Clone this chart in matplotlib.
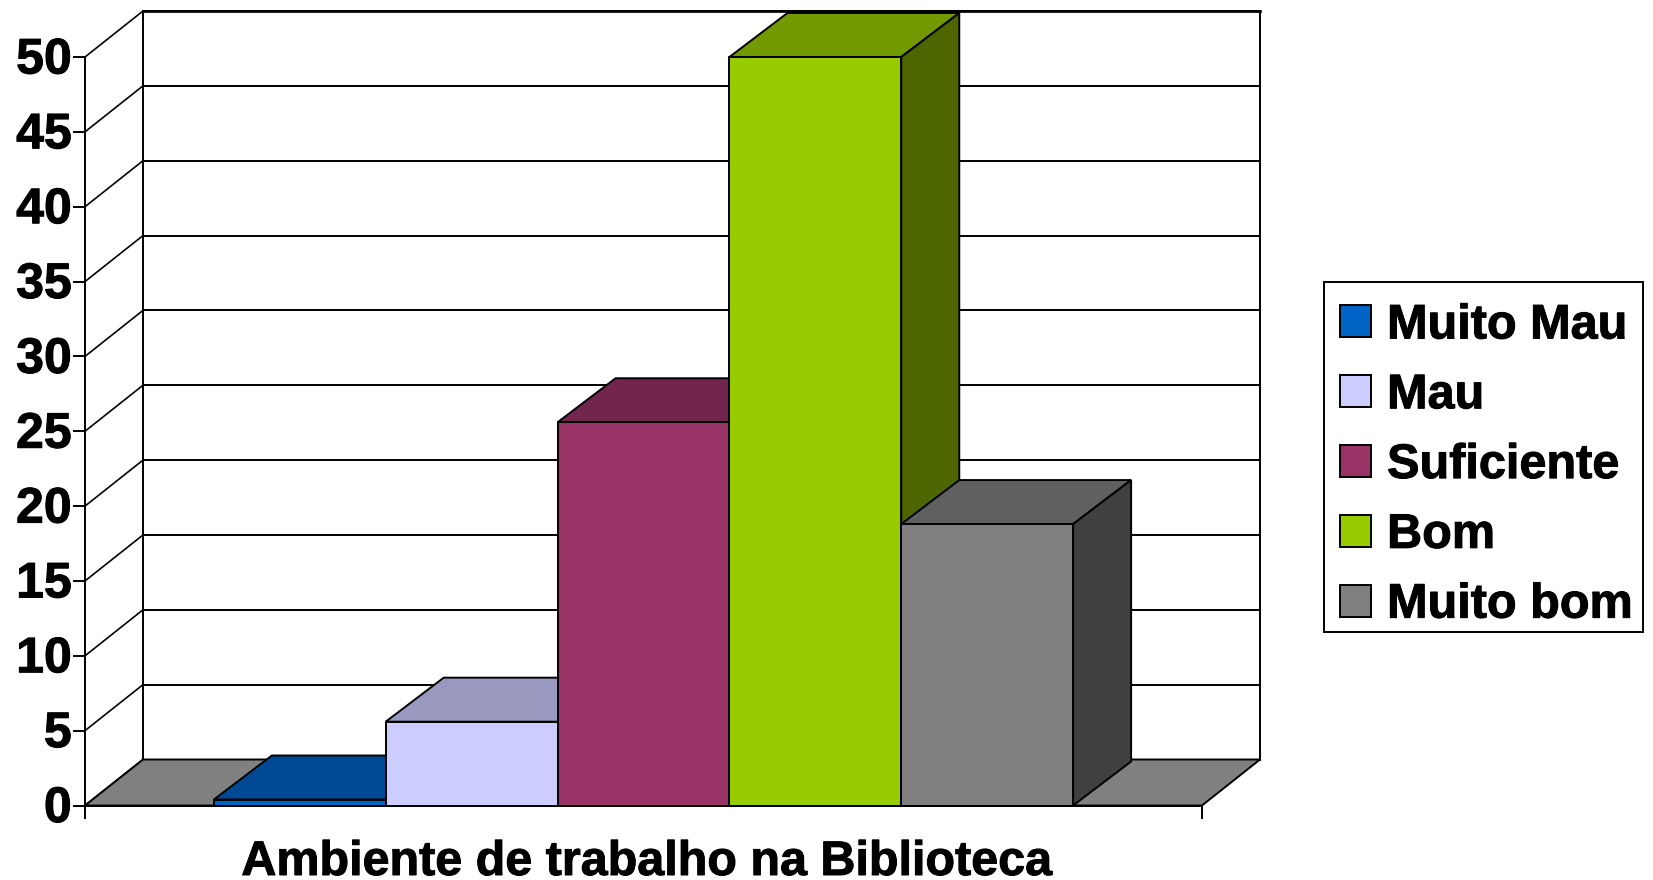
import matplotlib
matplotlib.use("Agg")
import matplotlib.pyplot as plt
import matplotlib.patheffects as pe
from matplotlib.patches import Patch, Polygon, Rectangle
from matplotlib.colors import to_rgb
from matplotlib.transforms import ScaledTranslation

categories = ["Muito Mau", "Mau", "Suficiente", "Bom", "Muito bom"]
values = [0.4, 5.6, 25.6, 50, 18.8]
colors = ["#0063C6", "#CCCCFF", "#993366", "#99CC00", "#808080"]
yticks = [0, 5, 10, 15, 20, 25, 30, 35, 40, 45, 50]
axis_title = "Ambiente de trabalho na Biblioteca"

W, H = 1653, 880
DPI = 100
LW = 1.4
FS_TICK = 36
FS_LEG = 35
FS_TITLE = 34.9
plt.rcParams["font.family"] = ["Liberation Sans", "DejaVu Sans"]
plt.rcParams["font.weight"] = "bold"
HEAVY = [pe.withStroke(linewidth=0.7, foreground="black")]

fig = plt.figure(figsize=(W / DPI, H / DPI), dpi=DPI, facecolor="white")
Y0, Y50 = 805.5, 57
ax = fig.add_axes([85 / W, (H - Y0) / H, 1117 / W, (Y0 - Y50) / H])
ax.set_xlim(0, 6.5)
ax.set_ylim(0, 50)
ax.patch.set_visible(False)

# depth of the 3D box, in data units
UNIT_Y = (Y0 - Y50) / 50
DX = 58 / (1117 / 6.5)
DY = 46 / UNIT_Y
BAR_DY = 44 / UNIT_Y
GAP = 0.75
XMAX = 6.5


def poly(pts, fc, z):
    ax.add_patch(Polygon(pts, closed=True, facecolor=fc, edgecolor="black",
                         linewidth=LW, joinstyle="miter", clip_on=False, zorder=z))


def shade(c, f):
    return tuple(v * f for v in to_rgb(c))


# gridlines: back wall + diagonals on the left side wall
for t in yticks:
    ax.plot([DX, XMAX + DX], [t + DY, t + DY], color="black", lw=LW, clip_on=False, zorder=1)
    ax.plot([0, DX], [t, t + DY], color="black", lw=LW * 0.85, clip_on=False, zorder=1)
ax.plot([DX, DX], [DY, 50 + DY], color="black", lw=LW, clip_on=False, zorder=1)
ax.plot([XMAX + DX, XMAX + DX], [DY, 50 + DY], color="black", lw=LW, clip_on=False, zorder=1)
ax.plot([DX, XMAX + DX], [50 + DY, 50 + DY], color="black", lw=LW * 1.4, clip_on=False, zorder=1)

# floor
poly([(0, 0), (XMAX, 0), (XMAX + DX, DY), (DX, DY)], "#808080", 2)

# bars, painted left to right
for i, (v, c) in enumerate(zip(values, colors)):
    x0, x1 = GAP + i, GAP + i + 1
    z = 3 + i
    poly([(x0, v), (x1, v), (x1 + DX, v + BAR_DY), (x0 + DX, v + BAR_DY)], shade(c, 0.75), z)
    poly([(x1, 0), (x1 + DX, BAR_DY), (x1 + DX, v + BAR_DY), (x1, v)], shade(c, 0.5), z)
    poly([(x0, 0), (x1, 0), (x1, v), (x0, v)], c, z)

for s in ["top", "right"]:
    ax.spines[s].set_visible(False)
for s in ["left", "bottom"]:
    ax.spines[s].set_linewidth(LW)
    ax.spines[s].set_zorder(20)

ax.set_yticks(yticks)
ax.set_yticklabels([str(t) for t in yticks], fontsize=FS_TICK, fontweight="bold", path_effects=HEAVY)
ax.set_xticks([0, XMAX])
ax.set_xticklabels(["", ""])
ax.tick_params(axis="y", length=8.6, width=LW, pad=1)
ax.tick_params(axis="x", length=9, width=LW)
shift_up = ScaledTranslation(0, 1.5 / DPI, fig.dpi_scale_trans)
for lab in ax.get_yticklabels():
    lab.set_transform(lab.get_transform() + shift_up)
ax.set_xlabel(axis_title, fontsize=FS_TITLE, fontweight="bold", path_effects=HEAVY)
ax.xaxis.set_label_coords((646.5 - 85) / 1117, -(885 - Y0) / (Y0 - Y50), transform=ax.transAxes)
ax.xaxis.label.set_va("bottom")

# legend box
fig.add_artist(Rectangle((1324 / W, (H - 632) / H), 319 / W, 350 / H, transform=fig.transFigure,
                         facecolor="white", edgecolor="black", linewidth=LW))
handles = [Patch(facecolor=c, edgecolor="black", linewidth=LW, label=n)
           for n, c in zip(categories, colors)]
leg = fig.legend(handles=handles, loc="upper left",
                 bbox_to_anchor=(1340 / W, (H - 303.5) / H), bbox_transform=fig.transFigure,
                 fontsize=FS_LEG, frameon=False, borderaxespad=0, borderpad=0,
                 handlelength=0.638, handleheight=0.638, handletextpad=0.33,
                 labelspacing=0.51)
for t in leg.get_texts():
    t.set_fontweight("bold")
    t.set_path_effects(HEAVY)

fig.savefig("out.png", dpi=DPI, facecolor="white")
